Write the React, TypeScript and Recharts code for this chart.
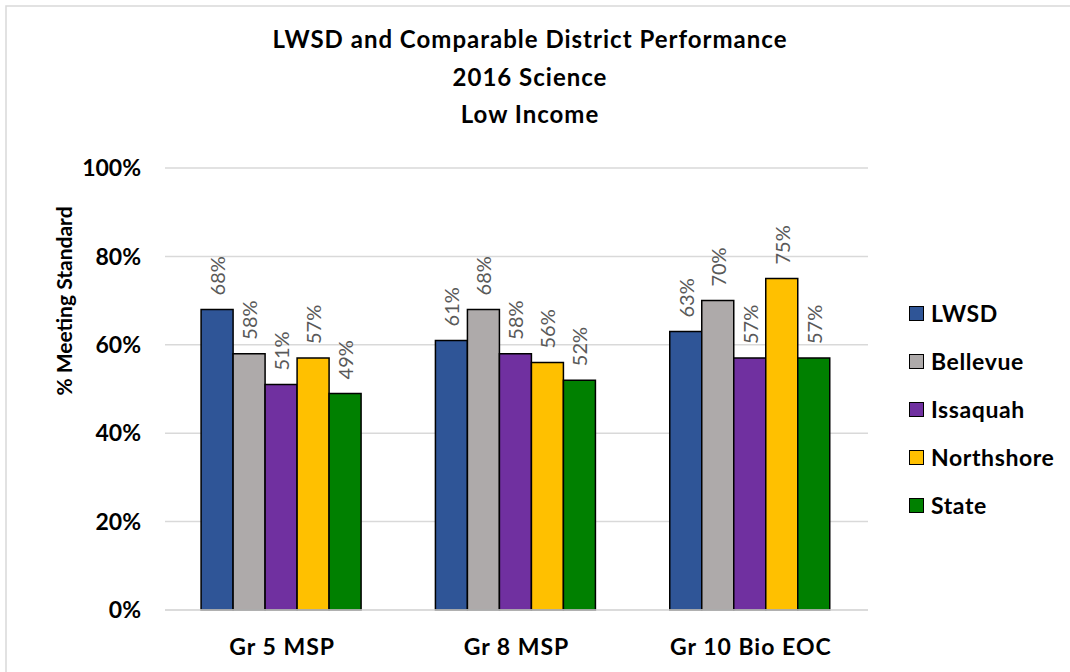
import { BarChart, Bar, XAxis, YAxis, CartesianGrid, Legend, LabelList } from "recharts";

// values (percent meeting standard)
const categories = ["Gr 5 MSP", "Gr 8 MSP", "Gr 10 Bio EOC"];
const lwsd = [68, 61, 63];
const bellevue = [58, 68, 70];
const issaquah = [51, 58, 57];
const northshore = [57, 56, 75];
const state = [49, 52, 57];
const yTicks = [0, 20, 40, 60, 80, 100];

const seriesNames = ["LWSD", "Bellevue", "Issaquah", "Northshore", "State"];
const seriesColors = ["#2F5597", "#AEAAAA", "#7030A0", "#FFC000", "#008000"];
const seriesValues = [lwsd, bellevue, issaquah, northshore, state];

const data = categories.map((cat, i) => {
  const row: Record<string, string | number> = { category: cat };
  seriesNames.forEach((name, s) => {
    row[name] = seriesValues[s][i];
  });
  return row;
});

const FONT = "Lato, 'Open Sans', sans-serif";

const ValueLabel = (props: any) => {
  const { x, y, width, value } = props;
  const cx = x + width / 2;
  return (
    <text
      transform={`translate(${cx}, ${y - 14}) rotate(-90)`}
      textAnchor="start"
      dominantBaseline="central"
      fill="#595959"
      fontSize={20}
      fontFamily={FONT}
    >
      {value}%
    </text>
  );
};

const LegendBox = () => (
  <div style={{ fontFamily: FONT, paddingLeft: 41 }}>
    {seriesNames.map((name, i) => (
      <div key={name} style={{ display: "flex", alignItems: "center", height: 48 }}>
        <span
          style={{
            width: 13,
            height: 13,
            flexShrink: 0,
            background: seriesColors[i],
            border: "1.5px solid #000",
            marginRight: 7,
            display: "inline-block",
          }}
        />
        <span
          style={{
            fontSize: 23,
            fontWeight: 700,
            letterSpacing: 0.6,
            color: "#000",
            whiteSpace: "nowrap",
          }}
        >
          {name}
        </span>
      </div>
    ))}
  </div>
);

const AxisTitle = (props: any) => {
  const { viewBox } = props;
  const cy = viewBox.y + viewBox.height / 2 - 88;
  return (
    <text
      transform={`translate(63, ${cy}) rotate(-90)`}
      textAnchor="middle"
      dominantBaseline="central"
      fontSize={21}
      fontWeight={700}
      fontFamily={FONT}
      fill="#000"
    >
      % Meeting Standard
    </text>
  );
};

const tickStyle = { fontSize: 23, fontWeight: 700, fill: "#000", fontFamily: FONT };

export default function App() {
  return (
    <div style={{ position: "absolute", left: 0, top: 0, width: 1070, height: 672, background: "#fff" }}>
      <BarChart
        width={1070}
        height={672}
        data={data}
        margin={{ top: 168, right: 42, bottom: 0, left: 0 }}
        barCategoryGap="15.4%"
        barGap={0}
      >
        <CartesianGrid vertical={false} stroke="#D9D9D9" strokeWidth={1.5} />
        <XAxis
          dataKey="category"
          height={62}
          tickLine={false}
          axisLine={{ stroke: "#D9D9D9", strokeWidth: 1.5 }}
          tickSize={0}
          tickMargin={29}
          tick={{ ...tickStyle, letterSpacing: 1 }}
        />
        <YAxis
          width={165}
          domain={[0, 100]}
          ticks={yTicks}
          tickFormatter={(v: number) => `${v}%`}
          tickLine={false}
          axisLine={false}
          tickSize={0}
          tickMargin={24}
          tick={tickStyle}
          label={{ content: AxisTitle }}
        />
        <Legend
          layout="vertical"
          align="right"
          verticalAlign="top"
          content={LegendBox}
          wrapperStyle={{ left: 868, top: 289, width: 160 }}
        />
        {seriesNames.map((name, i) => (
          <Bar
            key={name}
            dataKey={name}
            fill={seriesColors[i]}
            stroke="#000"
            strokeWidth={1.5}
            isAnimationActive={false}
          >
            <LabelList dataKey={name} content={ValueLabel} />
          </Bar>
        ))}
      </BarChart>
      <svg
        width={1070}
        height={672}
        style={{ position: "absolute", left: 0, top: 0, pointerEvents: "none" }}
      >
        <rect x={6} y={6} width={1100} height={700} fill="none" stroke="#D9D9D9" strokeWidth={1.5} />
        <g
          fontFamily={FONT}
          fontWeight={700}
          fontSize={24}
          letterSpacing={1}
          textAnchor="middle"
          fill="#000"
        >
          <text x={530} y={48}>LWSD and Comparable District Performance</text>
          <text x={530} y={86}>2016 Science</text>
          <text x={530} y={123}>Low Income</text>
        </g>
      </svg>
    </div>
  );
}
